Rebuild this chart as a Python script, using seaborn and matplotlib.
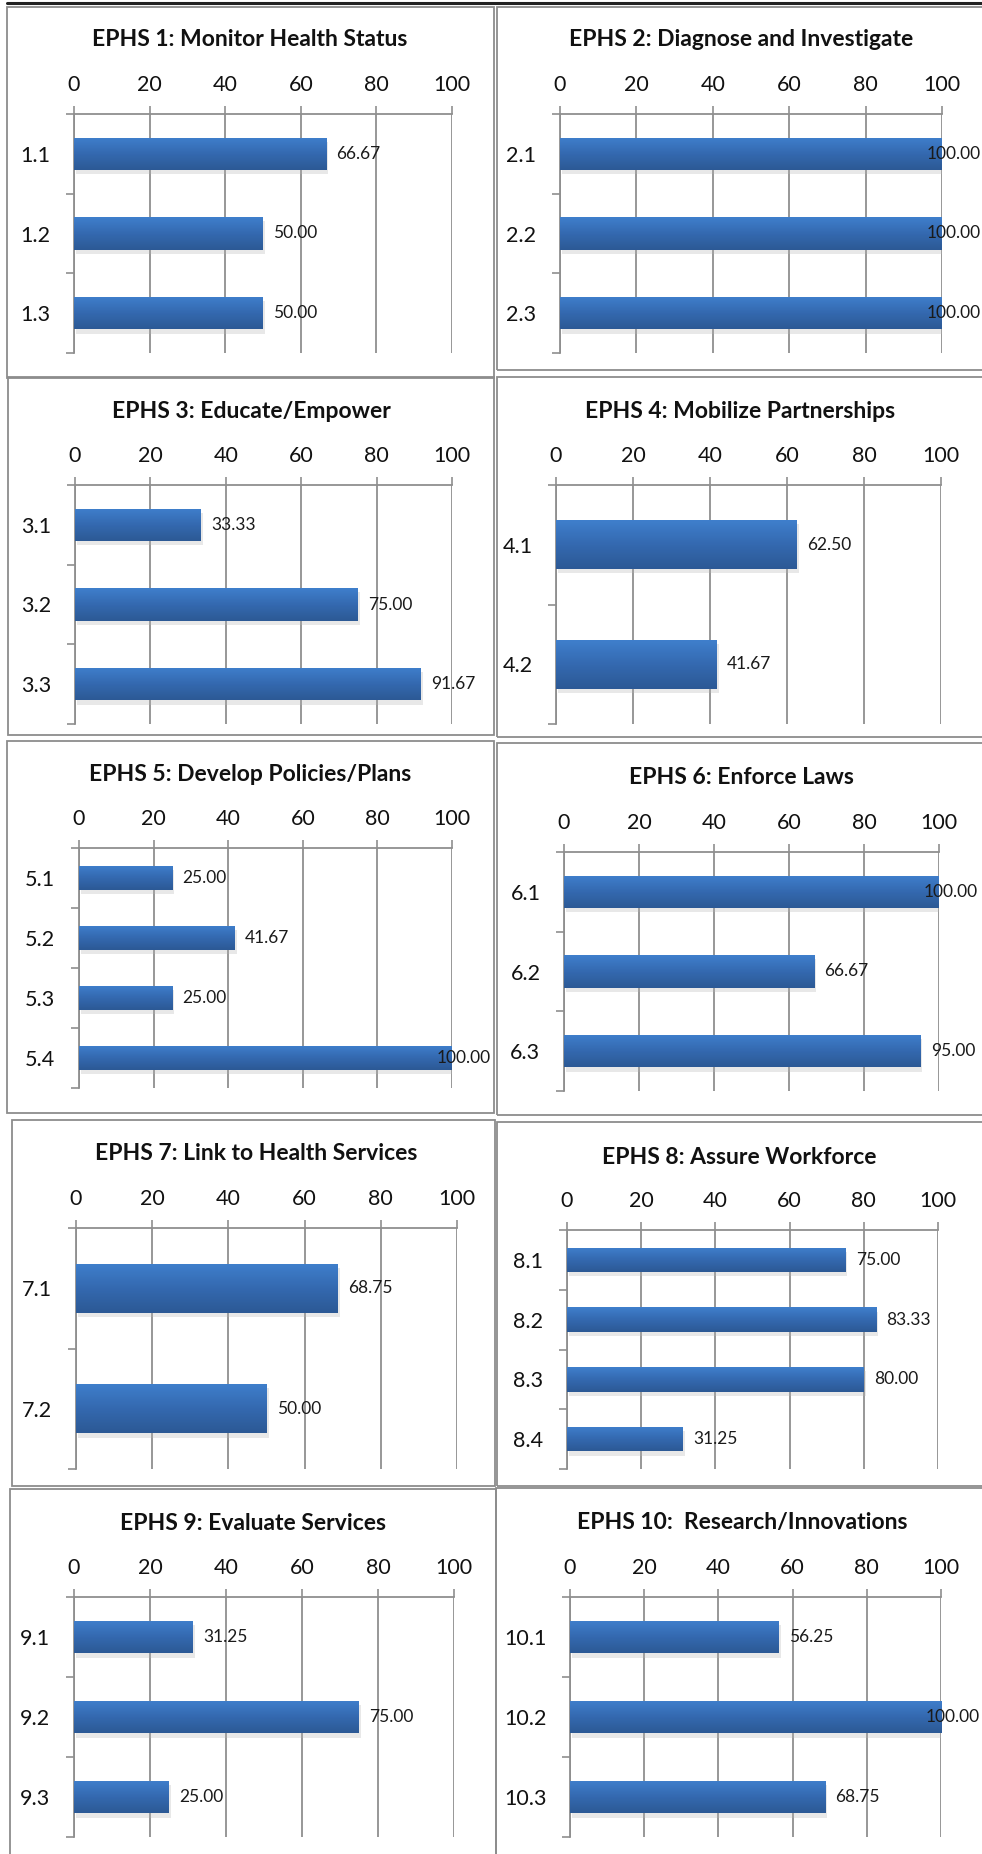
import numpy as np
import matplotlib
matplotlib.use("Agg")
import matplotlib.pyplot as plt
import matplotlib.patheffects as pe
from matplotlib.colors import LinearSegmentedColormap
from matplotlib.patches import Rectangle
from matplotlib.lines import Line2D
import seaborn as sns

# ---- data ----
titles = ["EPHS 1: Monitor Health Status", "EPHS 2: Diagnose and Investigate",
          "EPHS 3: Educate/Empower", "EPHS 4: Mobilize Partnerships",
          "EPHS 5: Develop Policies/Plans", "EPHS 6: Enforce Laws",
          "EPHS 7: Link to Health Services", "EPHS 8: Assure Workforce",
          "EPHS 9: Evaluate Services", "EPHS 10:  Research/Innovations"]

labels_1 = ["1.1", "1.2", "1.3"]
values_1 = [66.67, 50.00, 50.00]
labels_2 = ["2.1", "2.2", "2.3"]
values_2 = [100.00, 100.00, 100.00]
labels_3 = ["3.1", "3.2", "3.3"]
values_3 = [33.33, 75.00, 91.67]
labels_4 = ["4.1", "4.2"]
values_4 = [62.50, 41.67]
labels_5 = ["5.1", "5.2", "5.3", "5.4"]
values_5 = [25.00, 41.67, 25.00, 100.00]
labels_6 = ["6.1", "6.2", "6.3"]
values_6 = [100.00, 66.67, 95.00]
labels_7 = ["7.1", "7.2"]
values_7 = [68.75, 50.00]
labels_8 = ["8.1", "8.2", "8.3", "8.4"]
values_8 = [75.00, 83.33, 80.00, 31.25]
labels_9 = ["9.1", "9.2", "9.3"]
values_9 = [31.25, 75.00, 25.00]
labels_10 = ["10.1", "10.2", "10.3"]
values_10 = [56.25, 100.00, 68.75]

x_ticks = [0, 20, 40, 60, 80, 100]

panels = list(zip(titles,
                  [labels_1, labels_2, labels_3, labels_4, labels_5,
                   labels_6, labels_7, labels_8, labels_9, labels_10],
                  [values_1, values_2, values_3, values_4, values_5,
                   values_6, values_7, values_8, values_9, values_10]))

# ---- layout in pixels of a 982x1854 canvas ----
W, H = 982, 1854
# plot area: x of 0, x of 100, top y, bottom y ; title centre x, y
plot_px = [(74, 452, 114, 353), (560, 942, 114, 353),
           (75, 452, 485, 724), (556, 941, 485, 724),
           (79, 452, 848, 1088), (564, 939, 852, 1091),
           (76, 457, 1228, 1469), (567, 938, 1230, 1469),
           (74, 454, 1597, 1837), (570, 941, 1597, 1837)]
title_px = [(250, 40), (741, 40), (251, 412), (740, 411), (250, 775),
            (741, 778), (256, 1153), (739, 1157), (253, 1523), (742, 1523)]
box_px = [(7, 7, 494, 378), (497, 7, 990, 370),
          (8, 377, 494, 735), (497, 377, 990, 737),
          (7, 741, 494, 1113), (497, 743, 990, 1115),
          (12, 1120, 495, 1486), (497, 1122, 990, 1486),
          (10, 1489, 496, 1870), (496, 1488, 990, 1870)]

sns.set_theme(style="white")
plt.rcParams["font.family"] = ["Lato", "DejaVu Sans"]

fig = plt.figure(figsize=(W / 100, H / 100), dpi=100)
fig.patch.set_facecolor("white")

# panel frames
for (x0, y0, x1, y1) in box_px:
    fig.add_artist(Rectangle((x0 / W, 1 - y1 / H), (x1 - x0) / W, (y1 - y0) / H,
                             transform=fig.transFigure, fill=False,
                             edgecolor="#8c8c8c", lw=1.3))
fig.add_artist(Line2D([7 / W, 1], [1 - 3 / H, 1 - 3 / H], transform=fig.transFigure,
                      color="#222222", lw=2.2))

grad = np.linspace(0, 1, 64).reshape(-1, 1)
bar_cmap = LinearSegmentedColormap.from_list("bar", ["#3f7fcc", "#3469b0", "#2c5995"])
grid_color = "#8f8f8f"

for (title, labels, values), (xa, xb, yt, yb), (tx, ty) in zip(panels, plot_px, title_px):
    ax = fig.add_axes([xa / W, 1 - yb / H, (xb - xa) / W, (yb - yt) / H])
    sns.barplot(x=values, y=labels, orient="h", width=0.41, color="#3469b0",
                saturation=1, ax=ax, zorder=3)
    n = len(labels)

    for p in list(ax.patches):
        p.set_linewidth(0)
        p.set_path_effects([pe.SimplePatchShadow(offset=(1.5, -3), shadow_rgbFace="#b5b5b5",
                                                 alpha=0.3), pe.Normal()])
        x0, y0 = p.get_x(), p.get_y()
        w, h = p.get_width(), p.get_height()
        im = ax.imshow(grad, cmap=bar_cmap, extent=(x0, x0 + w, y0 + h, y0),
                       aspect="auto", origin="upper", zorder=3.5, interpolation="bicubic")
        im.set_clip_path(p)
    ax.set_xlim(0, 100)
    ax.set_ylim(n - 0.5, -0.5)

    # value labels
    for i, v in enumerate(values):
        if v >= 99.5:
            ax.annotate(f"{v:.2f}", (v, i), xytext=(-11, 0), textcoords="offset points",
                        ha="left", va="center", fontsize=12.5, color="#1a1a1a",
                        annotation_clip=False, zorder=6)
        else:
            ax.annotate(f"{v:.2f}", (v, i), xytext=(7.5, 0), textcoords="offset points",
                        ha="left", va="center", fontsize=12.5, color="#1a1a1a", zorder=6)

    # axes styling
    ax.xaxis.tick_top()
    ax.set_xticks(x_ticks)
    ax.set_xticklabels([str(t) for t in x_ticks])
    ax.tick_params(axis="x", direction="out", length=6, width=1.2, color=grid_color,
                   pad=7.5, labelsize=15.5, labelcolor="#111111")
    ax.set_yticks(np.arange(n + 1) - 0.5, minor=True)
    ax.tick_params(axis="y", which="major", length=0, pad=17, labelsize=15.5,
                   labelcolor="#111111")
    ax.tick_params(axis="y", which="minor", direction="out", length=6, width=1.2,
                   color=grid_color, left=True)
    ax.set_xlabel("")
    ax.set_ylabel("")
    ax.grid(axis="x", color=grid_color, lw=1.3)
    ax.grid(axis="y", visible=False)
    ax.set_axisbelow(True)
    for side in ["right", "bottom"]:
        ax.spines[side].set_visible(False)
    for side in ["top", "left"]:
        ax.spines[side].set_color(grid_color)
        ax.spines[side].set_linewidth(1.3)
    ax.patch.set_alpha(0)

    fig.text(tx / W, 1 - ty / H, title, ha="center", va="center",
             fontsize=16.5, fontweight="bold", color="#111111")

fig.savefig("out.png", dpi=100)
